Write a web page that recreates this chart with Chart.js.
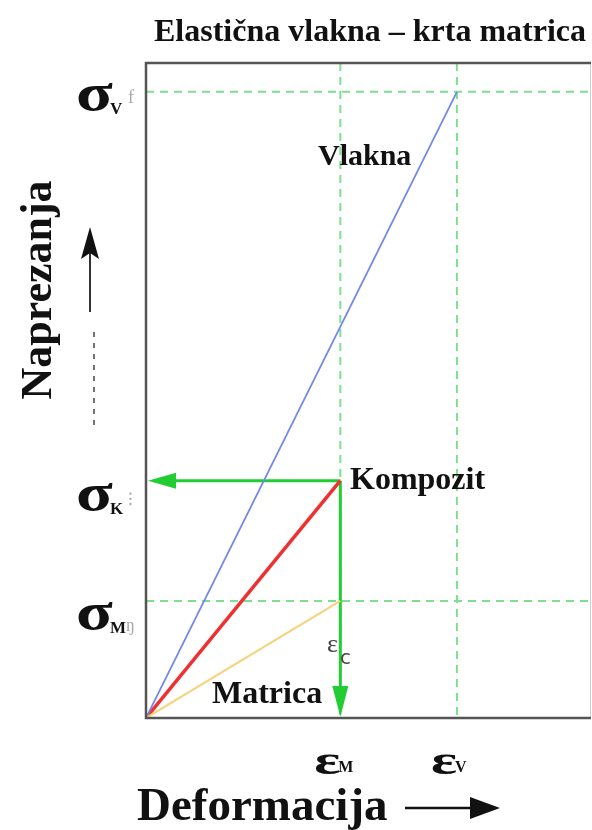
<!DOCTYPE html>
<html><head><meta charset="utf-8">
<script src="https://cdn.jsdelivr.net/npm/chart.js@4"></script>
<style>html,body{margin:0;padding:0;background:#fff;}#wrap{width:592px;height:830px;}</style>
</head><body><div id="wrap"><canvas id="c" width="592" height="830"></canvas></div>
<script>
// Data (arbitrary units)
const strainNames = ['M', 'V'];        // ε_M, ε_V
const strainValues = [1.0, 1.6];
const stressNames = ['V', 'K', 'M'];   // σ_V, σ_K, σ_M
const stressValues = [10.0, 3.79, 1.87];
const fiberLine = [{x:0,y:0},{x:1.6,y:10.0}];
const compositeLine = [{x:0,y:0},{x:1.0,y:3.79}];
const matrixLine = [{x:0,y:0},{x:1.0,y:1.87}];
const xMax = 2.29, yMax = 10.46;

const GREEN = '#22cc33';
const SERIF = '"Liberation Serif", "DejaVu Serif", serif';

function stretchText(ctx, txt, px, py, sx) {
  ctx.save();
  ctx.translate(px, py);
  ctx.scale(sx, 1);
  ctx.fillText(txt, 0, 0);
  ctx.restore();
}

const overlay = {
  id: 'overlay',
  beforeDatasetsDraw(chart) {
    const {ctx, chartArea: a, scales: {x, y}} = chart;
    ctx.save();
    ctx.strokeStyle = '#7ee08e';
    ctx.lineWidth = 2;
    ctx.setLineDash([8, 6]);
    strainValues.forEach(v => {
      const px = x.getPixelForValue(v);
      ctx.beginPath(); ctx.moveTo(px, a.top); ctx.lineTo(px, a.bottom); ctx.stroke();
    });
    [stressValues[0], stressValues[2]].forEach(v => {
      const py = y.getPixelForValue(v);
      ctx.beginPath(); ctx.moveTo(a.left, py); ctx.lineTo(a.right, py); ctx.stroke();
    });
    ctx.restore();
  },
  afterDraw(chart) {
    const {ctx, chartArea: a, scales: {x, y}} = chart;
    ctx.save();
    // frame
    ctx.strokeStyle = '#cccccc'; ctx.lineWidth = 1;
    ctx.beginPath(); ctx.moveTo(a.right - 0.5, a.top); ctx.lineTo(a.right - 0.5, a.bottom); ctx.stroke();
    ctx.strokeStyle = '#555555'; ctx.lineWidth = 2.5;
    ctx.beginPath();
    ctx.moveTo(a.right, a.top); ctx.lineTo(a.left, a.top); ctx.lineTo(a.left, a.bottom); ctx.lineTo(a.right, a.bottom);
    ctx.stroke();

    // green arrowheads
    const kx = x.getPixelForValue(compositeLine[1].x), ky = y.getPixelForValue(compositeLine[1].y);
    const ox = x.getPixelForValue(0), oy = y.getPixelForValue(0);
    ctx.fillStyle = GREEN;
    ctx.beginPath(); ctx.moveTo(ox + 2, ky); ctx.lineTo(ox + 30, ky - 8); ctx.lineTo(ox + 30, ky + 8); ctx.closePath(); ctx.fill();
    ctx.beginPath(); ctx.moveTo(kx, oy - 1); ctx.lineTo(kx - 8, oy - 32); ctx.lineTo(kx + 8, oy - 32); ctx.closePath(); ctx.fill();

    // title
    ctx.fillStyle = '#111';
    ctx.textBaseline = 'middle';
    ctx.textAlign = 'center';
    ctx.font = 'bold 32px ' + SERIF;
    ctx.fillText('Elastična vlakna – krta matrica', 370, 33);

    // curve labels
    ctx.textAlign = 'left';
    ctx.font = 'bold 30px ' + SERIF;
    ctx.fillText('Vlakna', 318, 157);
    ctx.font = 'bold 32px ' + SERIF;
    ctx.fillText('Kompozit', 350, 481);
    ctx.fillText('Matrica', 212, 695);
    ctx.fillStyle = '#444';
    ctx.font = '26px ' + SERIF;
    ctx.fillText('ε', 327, 645);
    ctx.font = '20px "DejaVu Sans", sans-serif';
    ctx.fillText('c', 340, 659);

    // sigma labels
    const sigY = stressValues.map(v => y.getPixelForValue(v));
    const sigOff = [11, 22, 21];
    stressNames.forEach((n, i) => {
      const py = sigY[i] + sigOff[i];
      ctx.fillStyle = '#111';
      ctx.font = 'bold 52px ' + SERIF;
      ctx.textAlign = 'left';
      stretchText(ctx, 'σ', 76, py - 6, 1.3);
      ctx.font = 'bold 17px ' + SERIF;
      ctx.fillText(n, 110, py + 7);
    });
    ctx.fillStyle = '#aaa';
    ctx.font = '18px ' + SERIF;
    ctx.fillText('f', 128, sigY[0] + 6);
    ctx.fillText('ŋ', 126, sigY[2] + 25);
    ctx.fillText('⁝', 128, sigY[1] + 20);

    // epsilon labels
    strainNames.forEach((n, i) => {
      const px = x.getPixelForValue(strainValues[i]);
      ctx.fillStyle = '#111';
      ctx.font = 'bold 42px ' + SERIF;
      ctx.textAlign = 'left';
      stretchText(ctx, 'ε', px - 26, 763, 1.45);
      ctx.font = 'bold 16px ' + SERIF;
      ctx.fillText(n, px - 2, 768);
    });

    // axis titles
    ctx.fillStyle = '#111';
    ctx.font = 'bold 47px ' + SERIF;
    ctx.textAlign = 'left';
    ctx.fillText('Deformacija', 137, 808);
    ctx.strokeStyle = '#111'; ctx.lineWidth = 2.5;
    ctx.beginPath(); ctx.moveTo(405, 808); ctx.lineTo(475, 808); ctx.stroke();
    ctx.beginPath(); ctx.moveTo(500, 808); ctx.lineTo(470, 797); ctx.lineTo(470, 819); ctx.closePath(); ctx.fill();

    ctx.save();
    ctx.translate(40, 290);
    ctx.rotate(-Math.PI / 2);
    ctx.textAlign = 'center';
    ctx.font = 'bold 44px ' + SERIF;
    ctx.fillText('Naprezanja', 0, 0);
    ctx.restore();
    ctx.strokeStyle = '#333'; ctx.lineWidth = 2;
    ctx.beginPath(); ctx.moveTo(90, 312); ctx.lineTo(90, 250); ctx.stroke();
    ctx.fillStyle = '#111';
    ctx.beginPath(); ctx.moveTo(90, 227); ctx.lineTo(81, 259); ctx.lineTo(90, 253); ctx.lineTo(99, 259); ctx.closePath(); ctx.fill();
    ctx.strokeStyle = '#444'; ctx.lineWidth = 1.5; ctx.setLineDash([5, 6]);
    ctx.beginPath(); ctx.moveTo(94, 332); ctx.lineTo(94, 428); ctx.stroke();
    ctx.restore();
  }
};

new Chart(document.getElementById('c'), {
  type: 'scatter',
  data: {
    datasets: [
      {data: matrixLine, showLine: true, borderColor: '#f6d27a', borderWidth: 2, pointRadius: 0},
      {data: fiberLine, showLine: true, borderColor: '#7388e8', borderWidth: 1.8, pointRadius: 0},
      {data: compositeLine, showLine: true, borderColor: '#ee3030', borderWidth: 3.5, pointRadius: 0},
      {data: [{x:compositeLine[1].x, y:compositeLine[1].y},{x:0.08, y:compositeLine[1].y}], showLine: true, borderColor: GREEN, borderWidth: 3, pointRadius: 0},
      {data: [{x:compositeLine[1].x, y:compositeLine[1].y},{x:compositeLine[1].x, y:0.3}], showLine: true, borderColor: GREEN, borderWidth: 3, pointRadius: 0}
    ]
  },
  options: {
    responsive: false,
    animation: false,
    devicePixelRatio: 1,
    layout: {padding: {left: 146, top: 63, right: 1, bottom: 112}},
    plugins: {legend: {display: false}, tooltip: {enabled: false}, title: {display: false}},
    scales: {
      x: {type: 'linear', min: 0, max: xMax, display: false},
      y: {type: 'linear', min: 0, max: yMax, display: false}
    }
  },
  plugins: [overlay]
});
</script>
</body></html>
